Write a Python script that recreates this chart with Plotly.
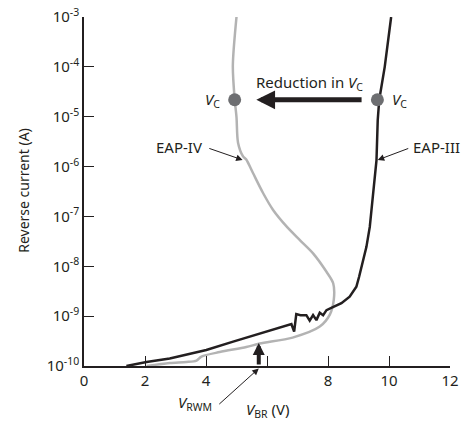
import plotly.graph_objects as go

# ---- data (voltage in V, log10 of reverse current in A) ----
eap3_v = [1.39, 2.05, 2.81, 4.01, 4.89, 5.76, 6.80, 6.89, 6.96, 7.10, 7.29, 7.40, 7.51, 7.62,
          7.73, 7.84, 7.95, 8.16, 8.44, 8.71, 8.93, 9.02, 9.15, 9.26, 9.37, 9.48, 9.59,
          9.63, 9.68, 9.86, 10.07]
eap3_logi = [-10.0, -9.92, -9.85, -9.68, -9.51, -9.35, -9.16, -9.31, -8.96, -8.98, -8.98, -9.09,
             -8.98, -9.08, -8.93, -8.98, -8.88, -8.82, -8.74, -8.61, -8.41, -8.21, -7.88,
             -7.61, -7.21, -6.54, -5.87, -5.07, -4.66, -4.00, -3.0]

eap4_v = [2.05, 2.81, 3.36, 3.69, 3.85, 4.45, 5.32, 5.76, 6.84, 7.73, 8.06, 8.19, 8.17, 7.95,
          7.51, 7.07, 6.64, 6.20, 5.87, 5.54, 5.32, 5.21, 5.05, 5.00, 4.94, 4.88, 5.0]
eap4_logi = [-10.0, -9.94, -9.92, -9.89, -9.81, -9.72, -9.62, -9.55, -9.43, -9.21, -8.97, -8.67,
             -8.34, -8.11, -7.74, -7.47, -7.20, -6.87, -6.53, -6.13, -5.86, -5.79, -5.52,
             -5.01, -4.65, -3.98, -3.0]

vc_v = [4.94, 9.62]
vc_logi = [-4.66, -4.66]

vrwm_v = 5.73
vrwm_logi = -9.54

x_tickvals = [0, 2, 4, 6, 8, 10, 12]
x_ticktext = ["0", "2", "4", "", "8", "10", "12"]
y_exps = [-10, -9, -8, -7, -6, -5, -4, -3]

INK = "#231f20"
GREY = "#b3b3b3"
DOT = "#6d6e71"
FONT = "Noto Sans"
FS = 15

fig = go.Figure()
fig.add_trace(go.Scatter(x=eap4_v, y=[10 ** v for v in eap4_logi], mode="lines",
                         line=dict(color=GREY, width=2.5, shape="spline", smoothing=0.8),
                         hoverinfo="skip"))
fig.add_trace(go.Scatter(x=eap3_v, y=[10 ** v for v in eap3_logi], mode="lines",
                         line=dict(color=INK, width=2.5),
                         hoverinfo="skip"))
fig.add_trace(go.Scatter(x=vc_v, y=[10 ** v for v in vc_logi], mode="markers",
                         marker=dict(color=DOT, size=13), hoverinfo="skip"))

txt = dict(size=FS, color=INK, family=FONT)
ann = []
# Reduction arrow
ann.append(dict(x=5.65, y=-4.66, ax=9.15, ay=-4.66, xref="x", yref="y", axref="x", ayref="y",
                text="", showarrow=True, arrowhead=2, arrowsize=0.75, arrowwidth=5, arrowcolor=INK))
ann.append(dict(x=7.40, y=-4.32, xref="x", yref="y", text="Reduction in <i>V</i><sub>C</sub>",
                showarrow=False, font=txt))
ann.append(dict(x=4.51, y=-4.66, xref="x", yref="y", xanchor="right", text="<i>V</i><sub>C</sub>",
                showarrow=False, font=txt))
ann.append(dict(x=10.02, y=-4.66, xref="x", yref="y", xanchor="left", text="<i>V</i><sub>C</sub>",
                showarrow=False, font=txt))
# EAP labels
ann.append(dict(x=3.12, y=-5.61, xref="x", yref="y", text="EAP-IV", showarrow=False, font=txt))
ann.append(dict(x=5.20, y=-5.867, ax=4.06, ay=-5.626, xref="x", yref="y", axref="x", ayref="y",
                text="", showarrow=True, arrowhead=2, arrowsize=1.3, arrowwidth=1, arrowcolor=INK))
ann.append(dict(x=11.55, y=-5.61, xref="x", yref="y", text="EAP-III", showarrow=False, font=txt))
ann.append(dict(x=9.63, y=-5.867, ax=10.68, ay=-5.626, xref="x", yref="y", axref="x", ayref="y",
                text="", showarrow=True, arrowhead=2, arrowsize=1.3, arrowwidth=1, arrowcolor=INK))
# V_RWM thick arrow
ann.append(dict(x=vrwm_v, y=vrwm_logi, ax=vrwm_v, ay=-10, xref="x", yref="y", axref="x", ayref="y",
                text="", showarrow=True, arrowhead=2, arrowsize=0.6, arrowwidth=4, arrowcolor=INK))
# V_RWM label arrow
ann.append(dict(x=vrwm_v, y=-0.007, xref="x", yref="paper", ax=-41, ay=37,
                text="", showarrow=True, arrowhead=2, arrowsize=1.3, arrowwidth=1, arrowcolor=INK))
ann.append(dict(x=3.64, y=-0.106, xref="x", yref="paper", xanchor="center", yanchor="middle",
                text="<i>V</i><sub>RWM</sub>", showarrow=False, font=txt))
ann.append(dict(x=6.02, y=-0.125, xref="x", yref="paper", xanchor="center", yanchor="middle",
                text="<i>V</i><sub>BR</sub> (V)", showarrow=False, font=txt))
# y title
ann.append(dict(x=-0.1675, y=0.504, xref="paper", yref="paper", xanchor="center", yanchor="middle",
                text="Reverse current (A)", textangle=-90, showarrow=False,
                font=dict(size=14, color=INK, family=FONT)))

fig.update_layout(
    width=470, height=421,
    margin=dict(l=84.3, r=19.7, t=17.3, b=55.3, autoexpand=False),
    paper_bgcolor="white", plot_bgcolor="white",
    showlegend=False,
    annotations=ann,
    font=dict(family=FONT, color=INK, size=FS),
)
fig.update_xaxes(range=[0, 12], tickvals=x_tickvals, ticktext=x_ticktext,
                 ticks="inside", ticklen=10, tickwidth=1.3, tickcolor=INK,
                 showline=True, linecolor=INK, linewidth=1.5, showgrid=False, zeroline=False,
                 tickfont=txt)
fig.update_yaxes(type="log", range=[-10, -3], tickvals=[10 ** e for e in y_exps],
                 ticktext=[f"10<sup>{e}</sup>" for e in y_exps],
                 ticks="inside", ticklen=10, tickwidth=1.3, tickcolor=INK,
                 showline=True, linecolor=INK, linewidth=1.5, showgrid=False, zeroline=False,
                 tickfont=txt)

fig.write_html("out.html", config={"displayModeBar": False},
               post_script="document.body.style.margin='0';document.body.style.overflow='hidden';")
